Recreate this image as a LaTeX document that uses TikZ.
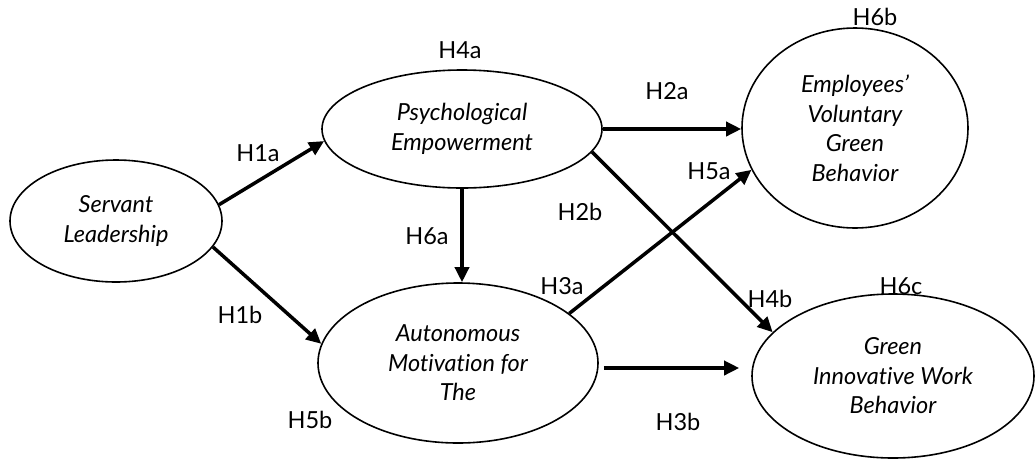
\documentclass[tikz,border=0pt]{standalone}
\usepackage{fontspec}
\setmainfont{Lato}[Ligatures=NoCommon]
\usetikzlibrary{shapes.geometric,arrows.meta}
\tikzset{
  ell/.style={draw, ellipse, line width=1.6pt, inner sep=0pt, align=center,
    font=\fontsize{23.5}{29.5}\selectfont\itshape},
  arr/.style={line width=3.5pt, -{Triangle[length=15pt,width=14pt]}},
  lbl/.style={font=\fontsize{23.5}{27}\selectfont, inner sep=0pt}
}
\begin{document}
\begin{tikzpicture}[x=1pt,y=-1pt]
\path[use as bounding box] (0,0) rectangle (1036,459);
\node[ell, minimum width=212pt, minimum height=122pt] (SL) at (116,221) {Servant\\Leadership};
\node[ell, minimum width=280pt, minimum height=118pt] (PE) at (462,129) {Psychological\\Empowerment};
\node[ell, minimum width=280pt, minimum height=160pt] (AM) at (458,363) {Autonomous\\Motivation for\\The};
\node[ell, minimum width=226pt, minimum height=200pt] (EV) at (855,128) {Employees'\\Voluntary\\Green\\Behavior};
\node[ell, minimum width=282pt, minimum height=164pt] (GI) at (893,376) {Green\\Innovative Work\\Behavior};

\draw[arr] (SL.9.5) -- (PE.185);
\draw[arr] (SL.-15.7) -- (AM.172);
\draw[arr] (PE.south) -- (PE.south |- AM.north);
\draw[arr] (PE.east) -- (PE.east -| EV.west);
\draw[arr] (PE.-10.9) -- (GI.160);
\draw[arr] (AM.24.4) -- (EV.202.7);
\draw[arr] ([shift={(5,5)}]AM.east) -- ([shift={(-12,-8)}]GI.west);

\node[lbl] (h4a) at (460,50) {H4a};
\node[lbl] (h6b) at (875,17) {H6b};
\node[lbl] (h2a) at (667,91) {H2a};
\node[lbl] (h1a) at (258,153) {H1a};
\node[lbl] (h5a) at (709,171) {H5a};
\node[lbl] (h2b) at (580,212) {H2b};
\node[lbl] (h6a) at (427,236) {H6a};
\node[lbl] (h3a) at (562,286) {H3a};
\node[lbl] (h4b) at (770,299) {H4b};
\node[lbl] (h6c) at (901,286) {H6c};
\node[lbl] (h1b) at (240,315) {H1b};
\node[lbl] (h5b) at (310,420) {H5b};
\node[lbl] (h3b) at (678,422) {H3b};
\end{tikzpicture}
\end{document}
